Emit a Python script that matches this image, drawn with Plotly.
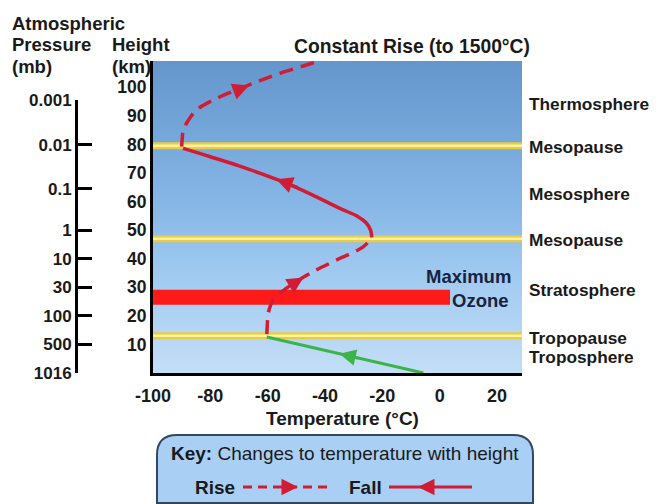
import plotly.graph_objects as go

# ---------------- data ----------------
temp_ticks = [-100, -80, -60, -40, -20, 0, 20]
height_ticks = [10, 20, 30, 40, 50, 60, 70, 80, 90, 100]
pressure_labels = ["1016", "500", "100", "30", "10", "1", "0.1", "0.01", "0.001"]
pressure_heights = [0, 10, 20, 30, 40, 50, 64.5, 80, 95.5]

boundary_heights = [79.5, 47.0, 13.0]          # yellow pause lines (km)
ozone_bottom, ozone_top = 23.9, 29.1           # maximum ozone band (km)
ozone_right = 3.6                              # bar right end (deg C)

tropo_t = [-5.7, -60.3]
tropo_h = [0.0, 12.6]
strato_t = [-60.3, -60.1, -59.8, -58.0, -53.4, -45.2, -35.9, -26.6, -23.7]
strato_h = [13.6, 17.5, 21.0, 25.6, 29.7, 34.9, 39.6, 44.2, 47.5]
meso_t = [-23.7, -24.1, -25.6, -28.6, -34.8, -45.0, -55.7, -70.0, -80.0, -89.5]
meso_h = [47.5, 50.0, 52.5, 54.8, 57.6, 62.6, 67.3, 72.5, 75.7, 78.6]
thermo_t = [-90.0, -89.8, -89.4, -87.5, -84.8, -78.0, -70.8, -63.0, -55.7, -44.6, -42.5]
thermo_h = [79.2, 82.0, 85.1, 88.7, 92.1, 96.0, 99.1, 102.2, 104.9, 108.4, 109.1]

layer_labels = ["Thermosphere", "Mesopause", "Mesosphere", "Mesopause",
                "Stratosphere", "Tropopause", "Troposphere"]
layer_label_heights = [94.0, 79.0, 62.7, 46.6, 29.1, 12.3, 5.6]

X_MIN, X_MAX = -100, 28.7
Y_MAX = 109.2

OFF = 8                      # page body margin
W, H = 650, 496
def px(x): return (x - OFF) / W
def py(y): return 1 - (y - OFF) / H

RED = "#d01c34"
GREEN = "#3cb44a"
FONT = "Liberation Sans, Arial, sans-serif"

fig = go.Figure()

# background gradient
fig.add_trace(go.Scatter(
    x=[X_MIN, X_MAX, X_MAX, X_MIN, X_MIN], y=[0, 0, Y_MAX, Y_MAX, 0],
    fill="toself", mode="none", hoverinfo="skip", showlegend=False,
    fillgradient=dict(type="vertical",
                      colorscale=[[0, "#c4def7"], [0.3, "#a2cbf1"],
                                  [0.55, "#86b6e6"], [1, "#6496cc"]])))

# yellow boundary lines
for hgt in boundary_heights:
    fig.add_trace(go.Scatter(x=[X_MIN, X_MAX], y=[hgt, hgt], mode="lines",
                             line=dict(color="#ebcb45", width=7),
                             hoverinfo="skip", showlegend=False))
    fig.add_trace(go.Scatter(x=[X_MIN, X_MAX], y=[hgt, hgt], mode="lines",
                             line=dict(color="#fcf39c", width=2.5),
                             hoverinfo="skip", showlegend=False))

# ozone band
fig.add_trace(go.Scatter(x=[X_MIN, ozone_right, ozone_right, X_MIN, X_MIN],
                         y=[ozone_bottom, ozone_bottom, ozone_top, ozone_top, ozone_bottom],
                         fill="toself", fillcolor="#ff1a1a", mode="none",
                         hoverinfo="skip", showlegend=False))

# temperature profile
fig.add_trace(go.Scatter(x=tropo_t, y=tropo_h, mode="lines",
                         line=dict(color=GREEN, width=3), hoverinfo="skip", showlegend=False))
fig.add_trace(go.Scatter(x=strato_t, y=strato_h, mode="lines",
                         line=dict(color=RED, width=3.5, dash="14px,8px", shape="spline"),
                         hoverinfo="skip", showlegend=False))
fig.add_trace(go.Scatter(x=meso_t, y=meso_h, mode="lines",
                         line=dict(color=RED, width=3.5, shape="spline"),
                         hoverinfo="skip", showlegend=False))
fig.add_trace(go.Scatter(x=thermo_t, y=thermo_h, mode="lines",
                         line=dict(color=RED, width=3.5, dash="14px,8px", shape="spline"),
                         hoverinfo="skip", showlegend=False))

# dummy trace for pressure axis
fig.add_trace(go.Scatter(x=[None], y=[None], xaxis="x2", yaxis="y2",
                         hoverinfo="skip", showlegend=False))

annotations = []
def arrow(x, y, ax, ay, color):
    annotations.append(dict(x=x, y=y, ax=ax, ay=ay, xref="x", yref="y", axref="x", ayref="y",
                            text="", showarrow=True, arrowhead=2, arrowsize=1.1,
                            arrowwidth=3, arrowcolor=color))
arrow(-66.5, 100.6, -72.0, 98.5, RED)
arrow(-57.0, 67.8, -49.0, 64.8, RED)
arrow(-47.5, 33.4, -52.0, 30.6, RED)
arrow(-35.0, 6.7, -28.0, 5.1, GREEN)

def text(t, x, y, size=17, xanchor="left", color="#1a1a1a", bold=True):
    annotations.append(dict(text=f"<b>{t}</b>" if bold else t, x=px(x), y=py(y),
                            xref="paper", yref="paper", xanchor=xanchor, yanchor="middle",
                            showarrow=False, font=dict(size=size, color=color, family=FONT)))

text("Atmospheric", 10, 23, size=18.5)
text("Pressure", 10, 44, size=18.5)
text("(mb)", 10, 66, size=18.5)
text("Height", 110, 44, size=18.5)
text("(km)", 110, 66, size=18.5)
text("Constant Rise (to 1500°C)", 292, 47, size=19.3)
text("Temperature (°C)", 343, 418, size=19, xanchor="center")
text("Maximum", 513, 276, size=18.5, xanchor="right", color="#17233f")
text("Ozone", 511, 300, size=18.5, xanchor="right", color="#17233f")

for lab, hgt in zip(layer_labels, layer_label_heights):
    annotations.append(dict(text=f"<b>{lab}</b>", x=px(527), y=hgt, xref="paper", yref="y",
                            xanchor="left", yanchor="middle", showarrow=False,
                            font=dict(size=17.3, color="#1a1a1a", family=FONT)))

# key box
shapes = [dict(type="path", xref="paper", yref="paper",
               path=(f"M {px(177)},{py(435)} L {px(513)},{py(435)} "
                     f"Q {px(533)},{py(435)} {px(533)},{py(455)} L {px(533)},{py(503)} "
                     f"L {px(157)},{py(503)} L {px(157)},{py(455)} "
                     f"Q {px(157)},{py(435)} {px(177)},{py(435)} Z"),
               fillcolor="#a9cff5", line=dict(color="#34475c", width=2), layer="above")]
annotations.append(dict(text="<b>Key:</b> Changes to temperature with height",
                        x=px(345), y=py(453), xref="paper", yref="paper",
                        xanchor="center", yanchor="middle", showarrow=False,
                        font=dict(size=19, color="#1a1a1a", family=FONT)))
text("Rise", 237, 487, size=19, xanchor="right")
text("Fall", 384, 487, size=19, xanchor="right")
shapes.append(dict(type="line", xref="paper", yref="paper", x0=px(243), x1=px(328),
                   y0=py(487), y1=py(487), line=dict(color=RED, width=3, dash="9px,6px"),
                   layer="above"))
shapes.append(dict(type="line", xref="paper", yref="paper", x0=px(389), x1=px(472),
                   y0=py(487), y1=py(487), line=dict(color=RED, width=3), layer="above"))
annotations.append(dict(x=px(298), y=py(487), xref="paper", yref="paper", ax=-12, ay=0,
                        text="", showarrow=True, arrowhead=2, arrowsize=1.1, arrowwidth=3,
                        arrowcolor=RED))
annotations.append(dict(x=px(418), y=py(487), xref="paper", yref="paper", ax=12, ay=0,
                        text="", showarrow=True, arrowhead=2, arrowsize=1.1, arrowwidth=3,
                        arrowcolor=RED))

fig.update_layout(
    template="none",
    width=W, height=H, margin=dict(l=0, r=0, t=0, b=0, pad=0, autoexpand=False),
    paper_bgcolor="white", plot_bgcolor="rgba(0,0,0,0)",
    font=dict(family=FONT, color="#1a1a1a", size=17),
    showlegend=False,
    xaxis=dict(domain=[px(153), px(522)], range=[X_MIN, X_MAX], automargin=False,
               tickvals=temp_ticks, ticktext=[f"<b>{v}</b>" for v in temp_ticks],
               ticks="outside", ticklen=4, tickcolor="rgba(0,0,0,0)",
               showline=True, linecolor="black", linewidth=3, showgrid=False,
               zeroline=False, tickfont=dict(size=18), fixedrange=True),
    yaxis=dict(domain=[py(373), py(61)], range=[0, Y_MAX], automargin=False,
               tickvals=height_ticks, ticktext=[f"<b>{v}</b>" for v in height_ticks],
               ticks="", showline=True, linecolor="black", linewidth=3, showgrid=False,
               zeroline=False, tickfont=dict(size=17.5), fixedrange=True),
    xaxis2=dict(domain=[px(78), px(79)], range=[0, 1], visible=False, anchor="y2",
                automargin=False),
    yaxis2=dict(domain=[py(373), py(100)], range=[0, 95.6], anchor="x2", side="left",
                automargin=False,
                tickvals=pressure_heights, ticktext=[f"<b>{v}</b>" for v in pressure_labels],
                ticks="inside", ticklen=14, tickwidth=3, tickcolor="black",
                showline=True, linecolor="black", linewidth=3, showgrid=False,
                zeroline=False, tickfont=dict(size=17), fixedrange=True),
    annotations=annotations, shapes=shapes,
)

fig.write_html("out.html")
